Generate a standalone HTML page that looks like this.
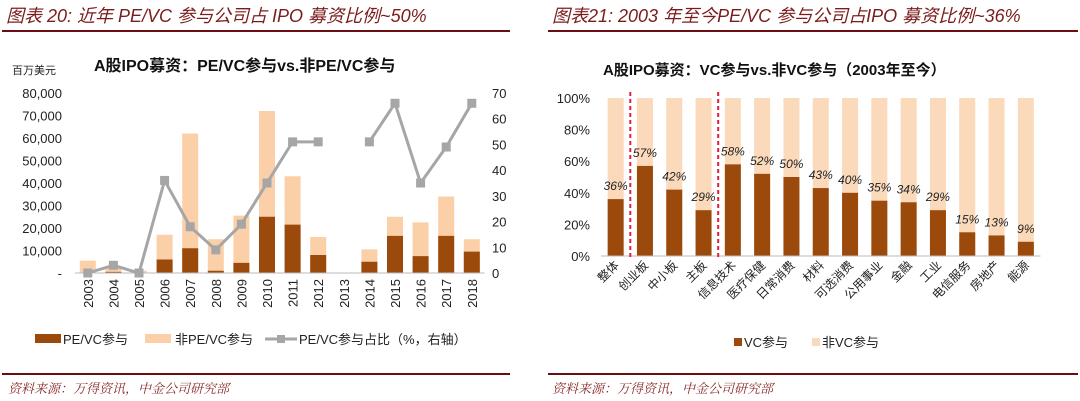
<!DOCTYPE html>
<html><head><meta charset="utf-8"><style>
body{margin:0;width:1080px;height:401px;background:#fff;overflow:hidden;font-family:"Liberation Sans","Noto Sans CJK SC",sans-serif}
svg{position:absolute;left:0;top:0}
</style></head><body>
<svg width="1080" height="401">
<text x="6" y="22" font-size="18" font-style="italic" fill="#7a1c1c" font-family="Liberation Sans,'Noto Sans CJK SC',sans-serif">图表 20: 近年 PE/VC 参与公司占 IPO 募资比例~50%</text>
<text x="552" y="22" font-size="18" font-style="italic" fill="#7a1c1c" font-family="Liberation Sans,'Noto Sans CJK SC',sans-serif">图表21: 2003 年至今PE/VC 参与公司占IPO 募资比例~36%</text>
<rect x="2" y="30" width="508" height="2" fill="#6b0e14"/>
<rect x="548" y="30" width="530" height="2" fill="#6b0e14"/>
<rect x="2" y="373" width="508" height="2" fill="#6b0e14"/>
<rect x="548" y="373" width="530" height="2" fill="#6b0e14"/>
<text x="8" y="393" font-size="13" font-style="italic" fill="#8b2a2a" font-family="Liberation Serif,'Noto Serif CJK SC',serif">资料来源：万得资讯，中金公司研究部</text>
<text x="552" y="393" font-size="13" font-style="italic" fill="#8b2a2a" font-family="Liberation Serif,'Noto Serif CJK SC',serif">资料来源：万得资讯，中金公司研究部</text>
<text x="94" y="71" font-size="16" font-weight="bold" fill="#111">A股IPO募资：PE/VC参与vs.非PE/VC参与</text>
<text x="12" y="74" font-size="11" fill="#222">百万美元</text>
<text x="603" y="75" font-size="15" font-weight="bold" fill="#111">A股IPO募资：VC参与vs.非VC参与（2003年至今）</text>
<g id="left"></g><g id="right"></g>
</svg>
<script>
const NS="http://www.w3.org/2000/svg";
function mk(p,t,a){const e=document.createElementNS(NS,t);for(const k in a)e.setAttribute(k,a[k]);p.appendChild(e);return e;}
// Left chart data
const years=["2003","2004","2005","2006","2007","2008","2009","2010","2011","2012","2013","2014","2015","2016","2017","2018"];
const pevcAmt=[0,500,0,6000,11000,1000,4500,25000,21500,8000,0,5000,16500,7500,16500,9500];
const totalAmt=[5500,3000,1000,17000,62000,15000,25500,72000,43000,16000,0,10500,25000,22500,34000,15000];
const pevcPct=[0,3,0,36,18,9,19,35,51,51,null,51,66,35,49,66];
const leftTicks=["-","10,000","20,000","30,000","40,000","50,000","60,000","70,000","80,000"];
const rightTicks=["0","10","20","30","40","50","60","70"];
const L=document.getElementById("left");
const y0=273,yTop=93,x0=75,step=25.6;
const yL=v=>y0-(v/80000)*(y0-yTop);
const yR=v=>y0-(v/70)*(y0-yTop);
const xL=i=>x0+step*(i+0.5);
leftTicks.forEach((t,i)=>{const e=mk(L,"text",{x:62,y:yL(i*10000)+5,"font-size":13,"text-anchor":"end",fill:"#222"});e.textContent=t;

});
rightTicks.forEach((t,i)=>{const e=mk(L,"text",{x:492,y:yR(i*10)+5,"font-size":13,fill:"#222"});e.textContent=t;

});
years.forEach((yr,i)=>{
 const x=xL(i),w=16;
 if(totalAmt[i]>0){const r=mk(L,"rect",{x:x-w/2,y:yL(totalAmt[i]),width:w,height:y0-yL(totalAmt[i]),fill:"#fbd0a8"});
 
 }
 if(pevcAmt[i]>0){const r=mk(L,"rect",{x:x-w/2,y:yL(pevcAmt[i]),width:w,height:y0-yL(pevcAmt[i]),fill:"#9c4a0c"});
 
 }
 const t=mk(L,"text",{transform:`translate(${x+5},${y0+6}) rotate(-90)`,"font-size":13,"text-anchor":"end",fill:"#222"});t.textContent=yr;
 
 
});
const ax=mk(L,"line",{x1:x0,x2:x0+step*16,y1:y0,y2:y0,stroke:"#bbb"});


let seg=[];
const segs=[];
pevcPct.forEach((v,i)=>{if(v===null){if(seg.length)segs.push(seg);seg=[];}else seg.push([xL(i),yR(v)]);});
if(seg.length)segs.push(seg);
segs.forEach(s=>{const p=mk(L,"polyline",{points:s.map(q=>q.join(",")).join(" "),fill:"none",stroke:"#a6a6a6","stroke-width":3});

});
pevcPct.forEach((v,i)=>{if(v===null)return;const r=mk(L,"rect",{x:xL(i)-4.5,y:yR(v)-4.5,width:9,height:9,fill:"#a6a6a6"});

});
// left legend
let g=mk(L,"g",{});
mk(g,"rect",{x:35,y:334,width:26,height:9,fill:"#9c4a0c"});
let t=mk(g,"text",{x:63,y:344,"font-size":13,fill:"#222"});t.textContent="PE/VC参与";
g=mk(L,"g",{});
mk(g,"rect",{x:145,y:334,width:26,height:9,fill:"#fbd0a8"});
t=mk(g,"text",{x:175,y:344,"font-size":13,fill:"#222"});t.textContent="非PE/VC参与";
g=mk(L,"g",{});
mk(g,"line",{x1:265,x2:297,y1:339,y2:339,stroke:"#a6a6a6","stroke-width":3});
mk(g,"rect",{x:277,y:335,width:8,height:8,fill:"#a6a6a6"});
t=mk(g,"text",{x:299,y:344,"font-size":13,fill:"#222"});t.textContent="PE/VC参与占比（%，右轴）";

// Right chart data
const cats=["整体","创业板","中小板","主板","信息技术","医疗保健","日常消费","材料","可选消费","公用事业","金融","工业","电信服务","房地产","能源"];
const vcShare=[36,57,42,29,58,52,50,43,40,35,34,29,15,13,9];
const pctTicks=["0%","20%","40%","60%","80%","100%"];
const R=document.getElementById("right");
const rb=256,rt=98,rx0=601,rstep=29.3;
const yP=v=>rb-(v/100)*(rb-rt);
const xP=i=>rx0+rstep*(i+0.5);
pctTicks.forEach((s,i)=>{const e=mk(R,"text",{x:590,y:yP(i*20)+5,"font-size":13,"text-anchor":"end",fill:"#222"});e.textContent=s;

});
cats.forEach((c,i)=>{
 const x=xP(i),w=16;
 let r=mk(R,"rect",{x:x-w/2,y:yP(100),width:w,height:rb-yP(100),fill:"#fbd9bb"});
 
 
 r=mk(R,"rect",{x:x-w/2,y:yP(vcShare[i]),width:w,height:rb-yP(vcShare[i]),fill:"#9c4a0c"});
 
 
 let e=mk(R,"text",{x:x,y:yP(vcShare[i])-9,"font-size":12,"font-style":"italic","text-anchor":"middle",fill:"#222"});e.textContent=vcShare[i]+"%";
 
 
 e=mk(R,"text",{transform:`translate(${x+4},${rb+10}) rotate(-45)`,"font-size":12,"text-anchor":"end",fill:"#222"});e.textContent=c;
 
 
});
const rax=mk(R,"line",{x1:rx0,x2:rx0+rstep*15,y1:rb,y2:rb,stroke:"#bbb"});


[1,4].forEach(k=>{const x=rx0+rstep*k;const l=mk(R,"line",{x1:x,x2:x,y1:92,y2:258,stroke:"#e0203a","stroke-width":2,"stroke-dasharray":"4,3"});

});
g=mk(R,"g",{});
mk(g,"rect",{x:734,y:338,width:8,height:8,fill:"#9c4a0c"});
t=mk(g,"text",{x:744,y:347,"font-size":13,fill:"#222"});t.textContent="VC参与";
g=mk(R,"g",{});
mk(g,"rect",{x:812,y:338,width:8,height:8,fill:"#fbd9bb"});
t=mk(g,"text",{x:822,y:347,"font-size":13,fill:"#222"});t.textContent="非VC参与";
</script>
</body></html>
